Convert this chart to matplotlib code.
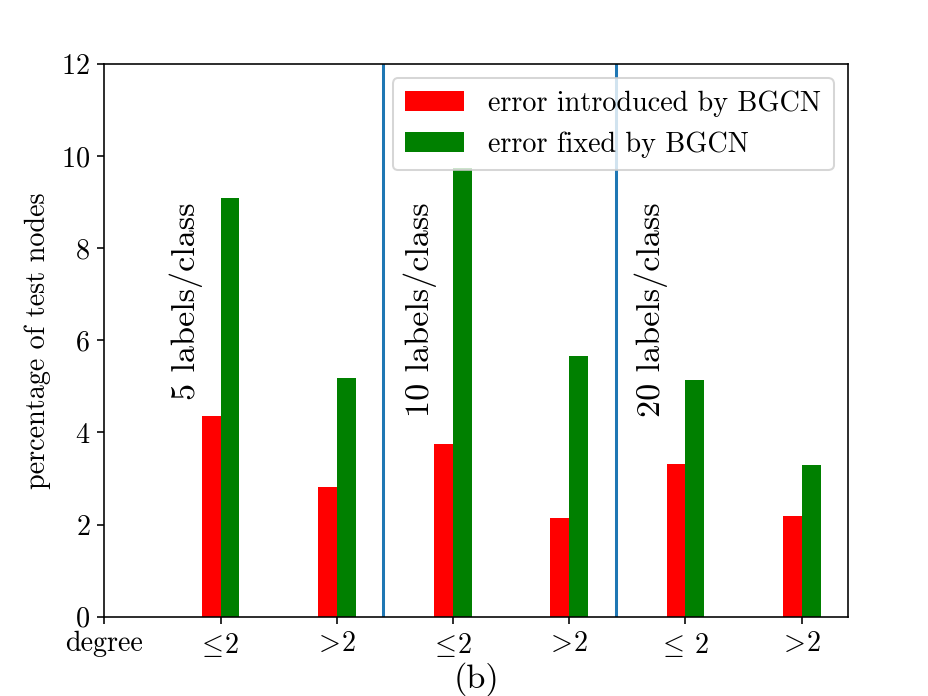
import matplotlib
matplotlib.use("Agg")
import matplotlib.pyplot as plt
import numpy as np

plt.rcParams['font.family'] = ['cmr10', 'DejaVu Serif']
plt.rcParams['mathtext.fontset'] = 'cm'
plt.rcParams['axes.formatter.use_mathtext'] = True

tick_labels = ['degree', r'$\!\leq\!$2', r'$\!>\!$2', r'$\!\leq\!$2', r'$\!>\!$2',
               r'$\!\leq\!$ 2', r'$\!>\!$2']
positions = [1, 2, 3, 4, 5, 6]
introduced = [4.35, 2.81, 3.74, 2.15, 3.32, 2.18]
fixed = [9.09, 5.19, 9.75, 5.67, 5.14, 3.30]
group_labels = ['5 labels/class', '10 labels/class', '20 labels/class']
group_text_x = [0.56, 2.57, 4.56]
separators = [2.4, 4.4]

fig = plt.figure(figsize=(6.4, 4.8), dpi=145)
ax = fig.add_axes([0.1124, 0.1138, 0.914 - 0.1124, 0.9083 - 0.1138])

w = 0.163
ax.bar(np.array(positions) - w / 2, introduced, width=w, color='red',
       label='error introduced by BGCN')
ax.bar(np.array(positions) + w / 2, fixed, width=w, color='green',
       label='error fixed by BGCN')
for s in separators:
    ax.axvline(s, color='#1f77b4', linewidth=1.5)
for tx, t in zip(group_text_x, group_labels):
    ax.text(tx, 9.0, t, rotation=90, ha='left', va='top', fontsize=17)

ax.set_xlim(0, 6.4)
ax.set_ylim(0, 12)
ax.set_xticks(range(7))
ax.set_xticklabels(tick_labels, fontsize=14)
ax.set_yticks(range(0, 13, 2))
ax.tick_params(axis='y', labelsize=14)
ax.set_ylabel('percentage of test nodes', fontsize=14)
ax.yaxis.set_label_coords(-0.071, 0.5)
ax.set_xlabel('(b)', fontsize=17, labelpad=1.5)
ax.legend(loc='upper right', fontsize=14, framealpha=0.8,
          handlelength=2.1, handletextpad=0.85, borderpad=0.45)

fig.savefig('out.png', dpi=145)
